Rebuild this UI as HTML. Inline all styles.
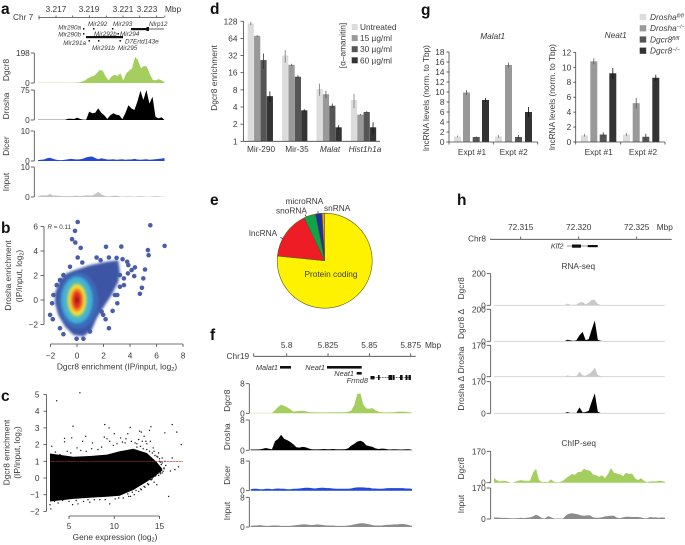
<!DOCTYPE html>
<html lang="en">
<head>
<meta charset="utf-8">
<title>Dgcr8 enrichment figure</title>
<style>
html,body{margin:0;padding:0;background:#fff;width:685px;height:545px;overflow:hidden}
svg{display:block;font-family:"Liberation Sans",sans-serif;filter:blur(.3px)}
text{fill:#3a3a3a;font-size:8.3px}
.p{font-size:15.5px;font-weight:bold;fill:#111}
.g{font-size:6.3px;font-style:italic}
.i{font-style:italic}
.m{text-anchor:middle}
.e{text-anchor:end}
.ax{stroke:#444;stroke-width:.8;fill:none}
</style>
</head>
<body>
<svg id="fig" xmlns="http://www.w3.org/2000/svg" width="685" height="545" viewBox="0 0 685 545">
  <rect width="685" height="545" fill="#fff"/>
  <text class="p" x="1" y="14">a</text>
  <text class="p" x="1" y="233">b</text>
  <text class="p" x="1" y="401">c</text>
  <text class="p" x="210" y="14">d</text>
  <text class="p" x="210" y="205">e</text>
  <text class="p" x="210" y="340">f</text>
  <text class="p" x="421" y="15">g</text>
  <text class="p" x="457" y="205">h</text>

  <!-- Panel a gene models -->
  <g>
    <text x="13" y="20" style="font-size:8.3px">Chr 7</text>
    <text x="165" y="12">Mbp</text>
    <text class="g e" x="81" y="29.5">Mir290a</text>
    <text class="g e" x="81" y="36.5">Mir290b</text>
    <text class="g e" x="86" y="45">Mir291a</text>
    <text class="g" x="88" y="26">Mir292</text>
    <text class="g" x="94" y="36">Mir292b</text>
    <text class="g" x="113" y="26">Mir293</text>
    <text class="g" x="120" y="36">Mir294</text>
    <text class="g" x="149" y="26">Nlrp12</text>
    <text class="g" x="125" y="43.5">D7Ertd143e</text>
    <text class="g" x="92" y="50">Mir291b</text>
    <text class="g" x="118" y="50">Mir295</text>
    <rect x="86" y="36" width="37" height="2.2" fill="#111"/>
    <rect x="131" y="28" width="17" height="2.2" fill="#111"/>
    <rect x="146.5" y="27" width="2.5" height="4" fill="#111"/>
    <line x1="148" y1="29" x2="164" y2="29" stroke="#222" stroke-width=".7"/>
    <g fill="#111">
      <rect x="83" y="28" width="1.4" height="1.6"/><rect x="83" y="33" width="1.4" height="1.6"/>
      <rect x="93" y="28" width="1.4" height="1.6"/><rect x="88.5" y="40" width="1.4" height="1.6"/>
      <rect x="98" y="40" width="1.4" height="1.6"/><rect x="112" y="28" width="1.4" height="1.6"/>
      <rect x="117.5" y="33" width="1.4" height="1.6"/><rect x="119.5" y="40" width="1.4" height="1.6"/>
    </g>
  </g>

  <!-- Panel b titles -->
  <text class="m" transform="translate(11 275.5) rotate(-90)">Drosha enrichment</text>
  <text class="m" transform="translate(22 276) rotate(-90)">(IP/input, log<tspan dy="1.5" style="font-size:5.5px">2</tspan><tspan dy="-1.5">)</tspan></text>
  <text class="m" x="117" y="369.5">Dgcr8 enrichment (IP/input, log<tspan dy="1.5" style="font-size:5.5px">2</tspan><tspan dy="-1.5">)</tspan></text>
  <text class="i" x="47.5" y="229" style="font-size:6.3px">R<tspan style="font-style:normal"> = 0.11</tspan></text>

  <!-- Panel c titles -->
  <text class="m" transform="translate(9.5 452.5) rotate(-90)">Dgcr8 enrichment</text>
  <text class="m" transform="translate(20 452.5) rotate(-90)">(IP/input, log<tspan dy="1.5" style="font-size:5.5px">2</tspan><tspan dy="-1.5">)</tspan></text>
  <text class="m" x="115" y="540">Gene expression (log<tspan dy="1.5" style="font-size:5.5px">2</tspan><tspan dy="-1.5">)</tspan></text>

  <!-- Panel d titles and legend -->
  <text class="m" transform="translate(217 78) rotate(-90)">Dgcr8 enrichment</text>
  <text class="m" transform="translate(345.5 45.5) rotate(-90)">[α–amanitin]</text>

  <!-- Panel e labels -->
  <text x="249" y="236">lncRNA</text>
  <text x="276" y="213.5">snoRNA</text>
  <text x="285.5" y="204">microRNA</text>
  <text x="324" y="211">snRNA</text>

  <!-- Panel f gene models -->
  <g>
    <text x="226.5" y="359">Chr19</text>
    <text x="425" y="348">Mbp</text>
    <text class="i e" x="278" y="370" style="font-size:7.4px">Malat1</text>
    <rect x="280" y="366" width="11" height="2.6" fill="#111"/>
    <text class="i e" x="325" y="370" style="font-size:7.4px">Neat1</text>
    <rect x="327" y="366" width="34.7" height="2.6" fill="#111"/>
    <text class="i e" x="354" y="376" style="font-size:7.4px">Neat1</text>
    <rect x="356.7" y="372" width="5" height="2.6" fill="#111"/>
    <text class="i e" x="368" y="383" style="font-size:7.4px">Frmd8</text>
    <line x1="370.5" y1="377.7" x2="411" y2="377.7" stroke="#222" stroke-width=".7" stroke-dasharray="2 .8"/>
    <g fill="#111">
      <rect x="370.5" y="376" width="4" height="3.4"/><rect x="378" y="375" width="1.6" height="5"/>
      <rect x="388.5" y="375" width="4" height="5"/><rect x="393" y="375" width="1.6" height="5"/>
      <rect x="400" y="375" width="2.6" height="5"/><rect x="405.5" y="375" width="2" height="5"/>
      <rect x="408.5" y="375" width="2.4" height="5"/>
    </g>
  </g>

  <!-- Panel g text -->
  <text class="m" transform="translate(429 98) rotate(-90)">lncRNA levels (norm. to Tbp)</text>
  <text class="m" transform="translate(555 97) rotate(-90)">lncRNA levels (norm. to Tbp)</text>
  <text class="i m" x="492.7" y="39">Malat1</text>
  <text class="i m" x="615.7" y="38">Neat1</text>

  <!-- Panel h text and gene -->
  <g>
    <text x="468" y="241.5">Chr8</text>
    <text x="656.7" y="230">Mbp</text>
    <text class="i e" x="563.5" y="248.5" style="font-size:7.4px">Klf2</text>
    <line x1="567" y1="246" x2="597.7" y2="246" stroke="#333" stroke-width=".6"/>
    <rect x="572" y="244.5" width="9" height="3.2" fill="#111"/>
    <rect x="587.7" y="245" width="10" height="2.2" fill="#111"/>
  </g>
  <text class="m" x="578.3" y="269">RNA-seq</text>
  <text class="m" x="578.7" y="446">ChIP-seq</text>
  <g id="layer"></g>
</svg>

<script>
/* ---------- Panel a: read depth per genomic bin ---------- */
const aDgcr8 = [2,2,2,2,2,2,2,2,2,2,2,2,2,2,4,9,17,32,41,47,65,86,82,43,17,43,54,47,65,17,65,82,97,172,150,97,112,108,60,22,17,26,17,6];
const aDrosha = [.4,.4,.4,.4,.4,.4,.4,.4,.4,.4,3,3,2.5,6,2.5,1,1,21,17,18,29,18,12,2.5,12,17,13,12,2,17,37,29,25,46,73,50,75,41,58,8,4,7,0];
const aDicer = [.3,.4,.5,.9,1.1,.7,.4,.3,.3,.4,.6,.7,.6,.5,.6,.8,1.2,1.4,1.5,1,.6,.9,.7,.5,.5,.6,.4,.5,.6,.4,.5,.5,.7,.5,.4,.5,.6,.4,.5,.6,.7,.8,1];
const aInput = [.3,.5,.6,.5,1,.5,.5,.4,.3,.3,.3,.3,.4,.4,.3,.4,.6,.5,.5,1,1.7,.9,.4,.2,.2,.4,.4,.3,.1,.2,.2,.2,.1,.2,.3,.2,.1,.1,.2,.3,.2,.1,.2];
const aTickLabels = ["3.217","3.219","3.221","3.223"];
const aTickValues = [3.217,3.218,3.219,3.220,3.221,3.222,3.223,3.2235];

/* ---------- Panel b ---------- */
const bYTicks = [6,4,2,0,-2];
const bXTicks = [-2,0,2,4,6,8];
const bOutlierX = [.05,-.15,-.38,-.13,.28,2.19,3.34,5.53,6.61,5.35,5.4,.05,.4,1.48,2.41,1.78,-.53,2.99,3.44,3.79,4.37,4.12,3.84,4.32,5.13,5,4.9,4.75,3.54,3.54,3.24,3.04,3.04,2.69,2.41,1.98,2.16,-1.88,-1.78,-1.53,-2.03,-1.83,-1.28,-1.03,-.03,.48,.98,-1.03,-1.28,3.87,1.86,3.24,2.86];
const bOutlierY = [6.37,5.64,4.96,4.69,4.25,4.34,4.36,6.1,4.42,4.07,3.66,3.47,3.06,3.47,3.47,3.25,2.71,3.44,3.33,3.12,2.66,2.44,2.17,1.95,2.49,1.76,1,.51,1.76,1.22,2.03,.41,-.27,-.89,-2.3,-1.22,-1.57,-.27,.41,1.22,-1.22,-1.57,-2.3,-2.79,-3.17,-3.17,-2.57,2.03,1.63,2.85,-.95,1.08,.41];
const bHullX = [-1.66,-1.28,-.78,-.15,.98,2.24,3.12,3.24,3.12,2.61,2.11,1.48,1.11,.48,-.28,-.9,-1.41,-1.66];
const bHullY = [.54,1.63,2.17,2.44,2.85,3.12,3.25,2.3,1.49,.41,-.41,-1.49,-2.44,-2.98,-2.85,-2.17,-1.22,-.27];
const bDensityRx = [1.5,1.17,.8,.66,.5,.35,.13];
const bDensityRy = [2.3,1.9,1.5,1.25,.98,.73,.27];
const bDensityColors = ["#3a6cb8","#45b0d8","#62c48a","#f4e52c","#f58a1f","#e22a20","#8f1616"];

/* ---------- Panel c ---------- */
const cYTicks = [5,4,3,2,1,0,-1,-2];
const cXTicks = [5,10,15];
const cEnvelopeGene = [2.9,5.5,7.3,9.2,10.6,12.1,13.6,14.7,15.3];
const cEnvelopeUpper = [1.47,1.27,1.32,1.4,1.6,1.75,1.5,.95,.55];
const cEnvelopeLower = [-1.41,-1.25,-1.18,-1.12,-1.06,-.72,-.22,.2,.45];
const cGenes = [3.64,6.2,5.44,8.95,9.43,11.76,14.05,16.4,15.6,16.9,17.4,16.4,16,17.1,16.2,16.7,4.5,4.5,5.3,6.85,6.5,5.9,3.1,7.6,8.9,9.2,9.5,10,10.7,11.3,11.5,12.8,13,13.3,13.9,12.7,13.5,14,3,2.9,3.4,5.4,6,7.3,9.5,10.5,11.8,12.7,13.8,14.4,14.7,14.4,14.7,15,15.2,15.5,15.3,3.5,4,4.8,5.2,6.3,6.9,7.5,8.2,8.6,9.9,10.3,10.9,11.2,11.9,12.3,12.5,13.1,13.6,14.3,14.9,15.1,3.8,4.3,5,5.8,6.6,7.1,7.8,8.4,9,10.1,11,11.6,12.2,13,13.4,14.2,15.1,15.4,12.5,12.9,13.2,13.6,13.9,14.2,14.5,14.8,15,15.3,15.6,13.7,14,14.3,14.6,14.9,15.2,15.5,15.7,11.5,12,12.4,12.9,13.3,13.7,14.1,14.5,14.9,15.1,15.3];
const cEnrich = [4.62,5.1,3.1,3.2,3,3.03,3.07,3.2,2.7,2.75,2,1.2,-1.1,.67,.42,.5,2.37,2.17,2.4,2.5,2.2,1.8,1.9,2.1,2.45,2.35,2.2,2.65,2.4,2.35,2.65,2.8,2.75,2.5,2.85,2.3,2.2,2.2,-1.85,-1.6,-1.4,-1.6,-1.55,-1.45,-1.55,-1.2,-1.1,-.8,-.4,-.25,-.4,1.6,1.3,1,.8,.6,.3,1.55,1.4,1.6,1.5,1.65,1.6,1.75,1.7,1.85,1.95,2.05,2.15,2.1,2.2,2.1,2.05,2.2,2.05,1.8,1.5,.95,-1.5,-1.35,-1.4,-1.35,-1.4,-1.3,-1.3,-1.3,-1.3,-1.25,-1.2,-1.1,-1,-.7,-.55,-.05,.25,.4,1.85,1.9,1.75,1.7,1.6,1.5,1.35,1.25,1.15,1.2,1,-.35,-.1,.05,.15,.3,.45,.55,.75,-.95,-.85,-.75,-.65,-.5,-.35,-.1,.1,.15,.35,.9];
const cThreshold = 1;

/* ---------- Panel d ---------- */
const dCategories = ["Mir-290","Mir-35","Malat","Hist1h1a"];
const dSeriesNames = ["Untreated","15 µg/ml","30 µg/ml","60 µg/ml"];
const dUntreated = [117,32,8.3,5.3];
const dDose15 = [71,22,6.7,2.93];
const dDose30 = [26.7,13.6,4.2,3.27];
const dDose60 = [6.2,3.5,1.76,1.76];
const dErrUntreated = [8,8,2,1.5];
const dErrDose15 = [2,1,1,.1];
const dErrDose30 = [8,.8,.4,.1];
const dErrDose60 = [1.3,.15,.15,.4];
const dTicks = [128,64,32,16,8,4,2,1];

/* ---------- Panel e ---------- */
const eSlices = ["Protein coding","lncRNA","snoRNA","microRNA","snRNA"];
const eValues = [76.6,16.3,4,2.2,.9];
const eColors = ["#fff200","#ee1c25","#0fa34a","#1c2f9e","#f0a020"];

/* ---------- Panel f ---------- */
const fDgcr8 = [.1,.1,.1,.1,.1,.1,.1,.1,.8,1.7,2.3,2,1.6,1.1,.45,.55,.65,.7,.55,.35,.3,.3,.25,.25,.25,.25,.3,.3,.3,.3,.3,.3,.4,.7,2.2,5.2,5.4,2.4,1.3,1.25,1.4,.8,.4,.3,.25,.25,.3,.3,.4,.45,.45,.4,.3,.2];
const fDrosha = [.2,.2,.2,.25,.4,.6,.4,.3,2.4,3,4.1,3,2.7,2.2,1.6,.8,.7,.9,.8,.5,.3,.25,.25,.3,.35,.3,.3,.35,.3,.25,.3,.3,.5,1.2,1.7,2.3,2.5,2.2,1.3,1.1,.9,.5,.35,.45,.4,.25,.2,.3,.25,.2,.2,.3,.3,.1];
const fDicer = [.4,.5,.5,.4,.4,.5,.5,.4,.5,.6,.5,.5,.4,.4,.5,.5,.6,.7,.8,.8,.7,.6,.7,.8,.8,.7,.7,.6,.5,.5,.5,.5,.5,.6,.8,.9,.9,.9,.8,.8,.6,.6,.5,.5,.6,.7,.7,.7,.7,.7,.7,.6,.6,.5];
const fInput = [.3,.4,.4,.5,.4,.3,.3,.4,.4,.4,.3,.3,.3,.3,.4,.5,.6,.7,.7,.6,.5,.6,.7,.6,.5,.4,.4,.4,.3,.3,.3,.3,.4,.5,.7,.9,1,1,.9,.7,.5,.4,.4,.4,.5,.6,.6,.7,.7,.8,.8,.7,.5,.3];
const fTickValues = [5.8,5.825,5.85,5.875];
const fTickLabels = ["5.8","5.825","5.85","5.875"];

/* ---------- Panel g ---------- */
const gLegend = ["Drosha","Drosha","Dgcr8","Dgcr8"];
const gLegendSup = ["fl/fl","−/−","fl/fl","−/−"];
const gExperiments = ["Expt #1","Expt #2"];
const gMalat = [1.1,9.9,1,8.4,1.1,15.4,1,6];
const gMalatErr = [.2,.5,.1,.4,.3,.5,.4,1];
const gNeat = [.9,10.8,1,9.2,1,5.2,.7,8.6];
const gNeatErr = [.2,.4,.3,.7,.2,.7,.4,.4];
const gMalatTicks = [18,16,14,12,10,8,6,4,2,0];
const gNeatTicks = [12,10,8,6,4,2,0];

/* ---------- Panel h ---------- */
const hTickValues = [72.315,72.320,72.325];
const hTickLabels = ["72.315","72.320","72.325"];
const hDgcr8 = [0,0,0,0,0,0,0,0,0,0,0,0,0,0,0,0,0,0,0,0,0,0,0,0,11,4,2,4,17,21,6,17,34,34,8,2,0,1,0,0,0,0,0,0,0,0,0,0,0,0,0,0,0,0,0,0,0];
const hDgcr8Delta = [0,0,0,0,0,0,0,0,0,0,0,0,0,0,0,0,0,0,0,0,0,0,0,0,10,6,4,6,38,59,8,13,74,130,10,4,0,2,0,0,0,0,0,0,0,0,0,0,0,0,0,0,0,0,0,0,0];
const hDrosha = [0,0,0,0,0,0,0,0,0,0,0,0,0,0,0,0,0,0,0,0,0,0,0,0,7,3,3,3,27,7,5,14,27,50,9,2,0,0,0,0,0,0,0,0,0,0,0,0,0,0,0,0,0,0,0,0,0];
const hDroshaDelta = [0,0,0,0,0,0,0,0,0,0,0,0,0,0,0,0,0,0,0,0,0,0,0,0,7,2,2,2,32,5,7,14,63,108,9,1,0,0,0,0,0,0,0,0,0,0,0,0,0,0,0,0,0,0,0,0,0];
const hChip = [25,13,7,11,9,4,0,5,11,14,11,11,11,54,76,14,4,5,4,18,5,2,4,11,25,36,47,43,58,58,76,68,65,45,40,32,40,25,47,79,54,50,45,36,54,47,50,25,14,25,11,2,7,7,7,11,9,4];
const hChipInput = [9,8,7,6,6,5,4,4,5,7,5,7,9,14,23,16,5,3,16,9,3,3,3,3,20,29,32,29,25,20,18,20,20,9,7,7,10,14,16,18,18,7,5,9,12,12,11,11,11,9,4,4,11,9,9,7,9,7];

/* ---------- Helpers ---------- */
const NS = "http://www.w3.org/2000/svg";
const layer = document.getElementById("layer");
const scale = (d0,d1,r0,r1) => v => r0 + (v-d0)*(r1-r0)/(d1-d0);

function shape(tag, props, parent){
  const node = document.createElementNS(NS, tag);
  for (const k in props) node.setAttribute(k, props[k]);
  (parent || layer).appendChild(node);
  return node;
}
function label(x, y, str, cls){
  const node = document.createElementNS(NS, "text");
  node.setAttribute("x", x);
  node.setAttribute("y", y);
  if (cls) node.setAttribute("class", cls);
  node.textContent = str;
  layer.appendChild(node);
  return node;
}
function line(x1,y1,x2,y2){
  return shape("line",{x1:x1,y1:y1,x2:x2,y2:y2,class:"ax"});
}
function yAxis(prefix, x, ticks, yFn, tickLen, labelGap){
  const ys = ticks.map(yFn);
  const axis = line(x, Math.min(...ys), x, Math.max(...ys));
  
  
  ticks.forEach(t => {
    const tick = line(x - tickLen, yFn(t), x, yFn(t));
    
    
    const lab = label(x - tickLen - labelGap, yFn(t) + 3, String(t).replace("-", "−"), "e");
    
    
  });
}

function track(prefix, title, values, cfg){
  const xBin = scale(0, values.length - 1, cfg.x0, cfg.x1);
  const yVal = scale(0, cfg.max, cfg.bottom, cfg.top);
  let pts = cfg.x0 + "," + cfg.bottom;
  values.forEach((v,i) => { pts += " " + xBin(i).toFixed(1) + "," + yVal(v).toFixed(1); });
  pts += " " + cfg.x1 + "," + cfg.bottom;
  const area = shape("polygon",{points:pts,fill:cfg.color});
  
  
  if (cfg.base){
    const base = shape("line",{x1:cfg.x0,y1:cfg.bottom,x2:cfg.x1,y2:cfg.bottom,stroke:cfg.base,"stroke-width":.8});
    
    
  }
  yAxis(prefix + "-" + title, cfg.ax, [cfg.max, 0], yVal, cfg.tick, 1);
  const name = label(0, 0, cfg.title, "m");
  name.removeAttribute("x");
  name.removeAttribute("y");
  name.setAttribute("transform", "translate(" + cfg.labelX + " " + cfg.labelY + ") rotate(-90)");
  
  
}

/* ---------- Draw panel a ---------- */
(function(){
  const xG = scale(3.217, 3.221, 56, 123);
  const ax = line(39, 17.5, 164, 17.5);
  
  
  const t0 = line(39, 15.5, 39, 19.5);
  
  
  aTickValues.forEach(v => {
    const t = line(xG(v), 15.5, xG(v), 17.5);
    
    
  });
  const labX = [56, 89, 123, 147];
  aTickLabels.forEach((s,i) => {
    const l = label(labX[i], 12, s, "m");
    
    
  });
  const base = {x0:38, x1:164.5, ax:34.3, tick:3.5, labelX:9};
  track("a","dgcr8",aDgcr8,{...base,top:53,bottom:83,max:198,color:"#a4cf5f",title:"Dgcr8",labelY:70});
  track("a","drosha",aDrosha,{...base,top:90,bottom:120,max:75,color:"#000",title:"Drosha",labelY:106});
  track("a","dicer",aDicer,{...base,top:131,bottom:161,max:10,color:"#2148d8",title:"Dicer",labelY:146});
  track("a","input",aInput,{...base,top:167,bottom:197,max:10,color:"#c4c4c4",title:"Input",labelY:182});
})();

/* ---------- Draw panel b ---------- */
(function(){
  const xS = scale(0, 2, 77, 103.5);
  const yS = scale(0, 2, 300, 275.5);
  const pts = bHullX.map((x,i) => xS(x).toFixed(1) + "," + yS(bHullY[i]).toFixed(1)).join(" ");
  const defs = shape("defs",{});
  const f = shape("filter",{id:"soft",x:"-30%",y:"-30%",width:"160%",height:"160%"},defs);
  shape("feGaussianBlur",{stdDeviation:"1.3"},f);
  const dotsGroup = shape("g",{fill:"#4a5ea8"});
  
  
  bOutlierX.forEach((x,i) => {
    const c = shape("circle",{cx:xS(x).toFixed(1),cy:yS(bOutlierY[i]).toFixed(1),r:2.3},dotsGroup);
    
    
  });
  const hull = shape("polygon",{points:pts,fill:"#3e55a5",filter:"url(#soft)"});
  
  
  const blobs = shape("g",{filter:"url(#soft)"});
  
  
  bDensityRx.forEach((rx,i) => {
    const e = shape("ellipse",{cx:xS(i==0?.1:0),cy:yS(i==0?-.05:0),rx:rx*13.25,ry:bDensityRy[i]*12.25,fill:bDensityColors[i]},blobs);
    
    
  });
  yAxis("b", 44, bYTicks, yS, 3.5, 2.5);
  const xa = line(xS(-2), 344, xS(8), 344);
  
  
  bXTicks.forEach(v => {
    const t = line(xS(v), 344, xS(v), 347);
    
    
    const l = label(xS(v), 358.5, String(v).replace("-", "−"), "m");
    
    
  });
})();

/* ---------- Draw panel c ---------- */
(function(){
  const xS = scale(5, 15, 69, 159.5);
  const yS = scale(0, 1, 478, 461.3);
  let pts = cEnvelopeGene.map((g,i) => xS(g).toFixed(1) + "," + yS(cEnvelopeUpper[i]).toFixed(1));
  const low = cEnvelopeGene.map((g,i) => xS(g).toFixed(1) + "," + yS(cEnvelopeLower[i]).toFixed(1)).reverse();
  const cloud = shape("polygon",{points:pts.concat(low).join(" "),fill:"#000"});
  
  
  const g = shape("g",{fill:"#111"});
  
  
  cGenes.forEach((x,i) => {
    const c = shape("circle",{cx:xS(x).toFixed(1),cy:yS(cEnrich[i]).toFixed(1),r:.7},g);
    
    
  });
  const th = shape("line",{x1:50,y1:yS(cThreshold),x2:183,y2:yS(cThreshold),stroke:"#a8322a","stroke-width":.7,"stroke-dasharray":"2.5 .5"});
  
  
  yAxis("c", 46.5, cYTicks, yS, 3, 4);
  const xa = line(xS(5), 516, xS(15), 516);
  
  
  cXTicks.forEach(v => {
    const t = line(xS(v), 516, xS(v), 519);
    
    
    const l = label(xS(v), 529, String(v), "m");
    
    
  });
})();

/* ---------- Draw panel d ---------- */
(function(){
  const yS = v => 141.3 - Math.log2(v) * 17.15;
  const series = [dUntreated,dDose15,dDose30,dDose60];
  const errs = [dErrUntreated,dErrDose15,dErrDose30,dErrDose60];
  const colors = ["#dcdcdc","#999","#555","#333"];
  const errColors = ["#777","#555","#333","#111"];
  const catLabelX = [261,297,330,365];
  dCategories.forEach((cat,c) => {
    series.forEach((s,k) => {
      const x = 247.7 + c*34.4 + k*6.35;
      const b = shape("rect",{x:x,y:yS(s[c]),width:6.2,height:141.3-yS(s[c]),fill:colors[k]});
      
      
      const e = shape("line",{x1:x+3.1,x2:x+3.1,y1:yS(s[c]+errs[k][c]),y2:yS(s[c]-errs[k][c]),stroke:errColors[k],"stroke-width":.8});
      
      
    });
    const l = label(catLabelX[c], 152, cat, c > 1 ? "m i" : "m");
    
    
  });
  yAxis("d", 243.5, dTicks, yS, 3, 3);
  const xa = line(243.5, 141.3, 380, 141.3);
  
  
  dSeriesNames.forEach((n,k) => {
    const sy = 24 + k*11.1;
    const sw = shape("rect",{x:351.7,y:sy,width:6,height:6,fill:colors[k]});
    
    
    const l = label(360, sy + 6, n);
    
    
  });
})();

/* ---------- Draw panel e ---------- */
(function(){
  const cx = 324.7, cy = 260.7, r = 47.5;
  const total = eValues.reduce((a,b) => a+b, 0);
  const toXY = f => [cx + r*Math.sin(f*2*Math.PI), cy - r*Math.cos(f*2*Math.PI)];
  let acc = 0;
  eValues.forEach((v,i) => {
    const a = toXY(acc/total);
    acc += v;
    const b = toXY(acc/total);
    const large = v/total > .5 ? 1 : 0;
    const d = "M"+cx+" "+cy+"L"+a[0].toFixed(2)+" "+a[1].toFixed(2)+"A"+r+" "+r+" 0 "+large+" 1 "+b[0].toFixed(2)+" "+b[1].toFixed(2)+"Z";
    const p = shape("path",{d:d,fill:eColors[i],stroke:"#5c5a20","stroke-width":.6});
    
    
  });
  const l = label(331, 277, eSlices[0], "m");
  
  
  const c1 = line(280.5, 237.5, 282.5, 238.5);
  
  
  const c2 = line(305, 214.5, 306.5, 217);
  
  
  const c3 = line(318, 211, 318, 214);
  
  
})();

/* ---------- Draw panel f ---------- */
(function(){
  const xG = scale(5.8, 5.875, 286.7, 410.7);
  const ax = line(253.7, 356.3, 415.7, 356.3);
  
  
  const t0 = line(253.7, 353.3, 253.7, 356.3);
  
  
  fTickValues.forEach((v,i) => {
    const t = line(xG(v), 353.3, xG(v), 356.3);
    
    
    const l = label(xG(v), 348, fTickLabels[i], "m");
    
    
  });
  const base = {x0:250.7, x1:412, ax:249.3, tick:3.5, labelX:230};
  track("f","dgcr8",fDgcr8,{...base,top:383.7,bottom:413.3,max:8,color:"#a4cf5f",title:"Dgcr8",labelY:400.7});
  track("f","drosha",fDrosha,{...base,top:420,bottom:450.3,max:8,color:"#000",title:"Drosha",labelY:436.7});
  track("f","dicer",fDicer,{...base,top:461,bottom:490.7,max:8,color:"#2148d8",title:"Dicer",labelY:475});
  track("f","input",fInput,{...base,top:497.3,bottom:527,max:8,color:"#8c8c8c",title:"Input",labelY:511});
})();

/* ---------- Draw panel g ---------- */
(function(){
  const colors = ["#dcdcdc","#999","#555","#333"];
  const errColors = ["#777","#555","#333","#111"];
  function barChart(prefix, values, errs, ticks, axX, axEnd, midX, barXs, pxPerUnit, labelXs){
    const yS = scale(0, 1, 142, 142 - pxPerUnit);
    values.forEach((v,i) => {
      const b = shape("rect",{x:barXs[i],y:yS(v),width:7,height:142-yS(v),fill:colors[i%4]});
      
      
      const e = shape("line",{x1:barXs[i]+3.5,x2:barXs[i]+3.5,y1:yS(v+errs[i]),y2:yS(v-errs[i]),stroke:errColors[i%4],"stroke-width":.8});
      
      
    });
    yAxis(prefix, axX, ticks, yS, 2.5, 2);
    const xa = line(axX, 142, axEnd, 142);
    
    
    [axX, midX, axEnd].forEach(x => {
      const t = line(x, 142, x, 144.5);
      
      
    });
    gExperiments.forEach((s,i) => {
      const l = label(labelXs[i], 155, s, "m");
      
      
    });
  }
  barChart("g-malat1", gMalat, gMalatErr, gMalatTicks, 449, 537.7, 493.3,
    [454,463,472.7,482,495,505,515,525], 5, [472,513.7]);
  barChart("g-neat1", gNeat, gNeatErr, gNeatTicks, 575.7, 665, 620.7,
    [581,590.3,599.7,609.3,623,632.7,642.3,652.3], 7.47, [598.7,643]);
  gLegend.forEach((n,i) => {
    const sy = 14 + i*11.2;
    const sw = shape("rect",{x:639.7,y:sy,width:6.5,height:6.2,fill:colors[i]});
    
    
    const l = label(650, sy + 6, n, "i");
    
    
    const sup = shape("tspan",{dy:"-2.5",style:"font-size:5.5px"},l);
    sup.textContent = gLegendSup[i];
    
    
  });
})();

/* ---------- Draw panel h ---------- */
(function(){
  const xG = scale(72.315, 72.325, 520.7, 636.7);
  const ax = line(490, 239.3, 671.7, 239.3);
  
  
  hTickValues.forEach((v,i) => {
    const t = line(xG(v), 236.5, xG(v), 239.3);
    
    
    const l = label(xG(v), 230, hTickLabels[i], "m");
    
    
  });
  const base = {x0:494, x1:665, ax:490.7, tick:4, labelX:464};
  track("h","rna-dgcr8",hDgcr8,{...base,top:273.7,bottom:305.3,max:200,color:"#c8c8c8",base:"#cfcfcf",title:"Dgcr8",labelY:288.3});
  track("h","rna-dgcr8-delta",hDgcr8Delta,{...base,top:309.3,bottom:341.3,max:200,color:"#000",base:"#cfcfcf",title:"Dgcr8 Δ",labelY:324});
  track("h","rna-drosha",hDrosha,{...base,top:345.3,bottom:376.7,max:170,color:"#c8c8c8",base:"#cfcfcf",title:"Drosha",labelY:360});
  track("h","rna-drosha-delta",hDroshaDelta,{...base,top:381.7,bottom:413.3,max:170,color:"#000",base:"#cfcfcf",title:"Drosha Δ",labelY:393.3});
  track("h","chip-dgcr8",hChip,{...base,top:451.3,bottom:482.7,max:170,color:"#a4cf5f",title:"Dgcr8",labelY:468.3});
  track("h","chip-input",hChipInput,{...base,top:488,bottom:519,max:170,color:"#8c8c8c",title:"Input",labelY:504});
})();
</script>
</body>
</html>
